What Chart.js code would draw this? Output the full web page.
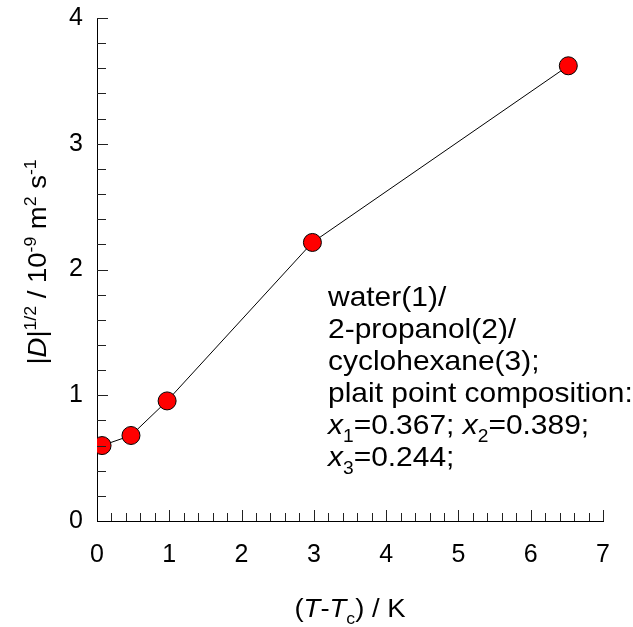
<!DOCTYPE html>
<html>
<head>
<meta charset="utf-8">
<script src="https://cdn.jsdelivr.net/npm/chart.js@4"></script>
<style>
html,body{margin:0;padding:0;background:#fff;}
#wrap{width:633px;height:627px;position:relative;}
</style>
</head>
<body>
<div id="wrap"><canvas id="c" width="633" height="627"></canvas></div>
<script>
// Data
const deltaT = [0.07, 0.47, 0.97, 2.98, 6.52];          // (T - Tc) / K
const sqrtD  = [0.60, 0.68, 0.955, 2.215, 3.62];        // |D|^(1/2) / 1e-9 m2 s-1
const xTickLabels = ['0','1','2','3','4','5','6','7'];
const yTickLabels = ['0','1','2','3','4'];
const noteLines = [
  [{t:'water(1)/'}],
  [{t:'2-propanol(2)/'}],
  [{t:'cyclohexane(3);'}],
  [{t:'plait point composition:'}],
  [{t:'x',i:true},{t:'1',sub:true},{t:'=0.367; '},{t:'x',i:true},{t:'2',sub:true},{t:'=0.389;'}],
  [{t:'x',i:true},{t:'3',sub:true},{t:'=0.244;'}]
];
const xTitle = [{t:'('},{t:'T',i:true},{t:'-'},{t:'T',i:true},{t:'c',sub:true},{t:') / K'}];
const yTitle = [{t:'|'},{t:'D',i:true},{t:'|'},{t:'1/2',sup:true},{t:' / 10'},{t:'-9',sup:true},{t:' m'},{t:'2',sup:true},{t:' s'},{t:'-1',sup:true}];

const FONT = '"Liberation Sans", Arial, sans-serif';

function segFont(s, size){
  const sz = (s.sub||s.sup) ? size*0.64 : size;
  return (s.i ? 'italic ' : '') + sz + 'px ' + FONT;
}
function richWidth(ctx, segs, size){
  let w = 0;
  segs.forEach(s => { ctx.font = segFont(s,size); w += ctx.measureText(s.t).width; });
  return w;
}
function drawRich(ctx, segs, x, y, size){
  let cx = x;
  segs.forEach(s => {
    ctx.font = segFont(s,size);
    let dy = 0;
    if (s.sub) dy = size*0.28;
    if (s.sup) dy = -size*0.42;
    ctx.fillText(s.t, cx, y+dy);
    cx += ctx.measureText(s.t).width;
  });
}

const isInt = v => Math.abs(v - Math.round(v)) < 1e-6;

const decor = {
  id:'decor',
  afterDraw(chart){
    const ctx = chart.ctx;
    const xs = chart.scales.x, ys = chart.scales.y;
    const ca = chart.chartArea;
    ctx.save();
    // inward ticks
    ctx.strokeStyle = '#222';
    ctx.lineWidth = 1;
    xs.ticks.forEach(t => {
      const px = Math.round(xs.getPixelForValue(t.value)) + 0.5;
      const len = isInt(t.value) ? 11 : 8;
      if (t.value <= 0) return;
      ctx.beginPath(); ctx.moveTo(px, ca.bottom); ctx.lineTo(px, ca.bottom - len); ctx.stroke();
    });
    ys.ticks.forEach(t => {
      const py = Math.round(ys.getPixelForValue(t.value)) + 0.5;
      const len = isInt(t.value) ? 11 : 9;
      if (t.value <= 0) return;
      ctx.beginPath(); ctx.moveTo(ca.left, py); ctx.lineTo(ca.left + len, py); ctx.stroke();
    });
    ctx.fillStyle = '#000';
    ctx.textBaseline = 'alphabetic';
    ctx.textAlign = 'left';
    const SX = 1.1;
    // x title
    const xs2 = 25;
    const wx = richWidth(ctx, xTitle, xs2)*SX;
    ctx.save();
    ctx.translate((ca.left+ca.right)/2 - wx/2, 617);
    ctx.scale(SX,1);
    drawRich(ctx, xTitle, 0, 0, xs2);
    ctx.restore();
    // y title
    const SY = 1.1;
    const wy = richWidth(ctx, yTitle, xs2)*SY;
    ctx.save();
    ctx.translate(46, 262 + wy/2);
    ctx.rotate(-Math.PI/2);
    ctx.scale(SY,1);
    drawRich(ctx, yTitle, 0, 0, xs2);
    ctx.restore();
    // annotation
    const ns = 28;
    noteLines.forEach((line, k) => {
      ctx.save();
      ctx.translate(328, 306 + k*32);
      ctx.scale(1.07,1);
      drawRich(ctx, line, 0, 0, ns);
      ctx.restore();
    });
    ctx.restore();
  }
};

new Chart(document.getElementById('c'), {
  type:'scatter',
  data:{
    datasets:[{
      data: deltaT.map((x,i)=>({x, y: sqrtD[i]})),
      showLine:true,
      borderColor:'#000',
      borderWidth:1,
      pointBackgroundColor:'#ff0000',
      pointBorderColor:'#000',
      pointBorderWidth:1,
      pointRadius:9,
      pointHoverRadius:9,
      tension:0
    }]
  },
  options:{
    responsive:false,
    animation:false,
    events:[],
    layout:{padding:{top:18,right:30,left:0,bottom:0}},
    plugins:{legend:{display:false},tooltip:{enabled:false}},
    scales:{
      x:{
        type:'linear', min:0, max:7,
        afterFit(s){ s.height = 106; s.paddingRight = 0; s.paddingLeft = 0; },
        grid:{display:false, drawTicks:false},
        border:{display:true,color:'#000',width:1},
        ticks:{
          stepSize:0.2, autoSkip:false, maxRotation:0, padding:19,
          color:'#000', font:{family:FONT,size:25},
          callback:(v)=> isInt(v) ? xTickLabels[Math.round(v)] : ''
        }
      },
      y:{
        type:'linear', min:0, max:4,
        afterFit(s){ s.width = 97; s.paddingTop = 0; s.paddingBottom = 0; },
        grid:{display:false, drawTicks:false},
        border:{display:true,color:'#000',width:1},
        ticks:{
          stepSize:0.2, autoSkip:false, padding:14,
          color:'#000', font:{family:FONT,size:25},
          callback:(v)=> isInt(v) ? yTickLabels[Math.round(v)] : ''
        }
      }
    }
  },
  plugins:[decor]
});
</script>
</body>
</html>
